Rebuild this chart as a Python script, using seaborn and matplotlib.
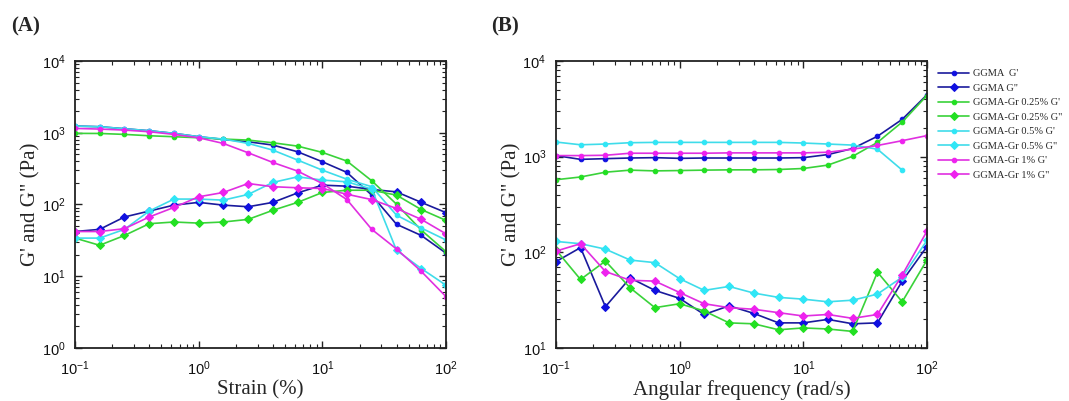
import numpy as np
import pandas as pd
import matplotlib
matplotlib.use("Agg")
import matplotlib.pyplot as plt
import seaborn as sns
from matplotlib.ticker import LogLocator, NullFormatter

# ---------------- data ----------------
strain = [0.1, 0.158, 0.251, 0.398, 0.631, 1.0, 1.58, 2.51, 3.98, 6.31, 10.0, 15.8, 25.1, 39.8, 63.1, 100.0]
freq = [0.1, 0.158, 0.251, 0.398, 0.631, 1.0, 1.58, 2.51, 3.98, 6.31, 10.0, 15.8, 25.1, 39.8, 63.1, 100.0]

labels = ["GGMA  G'", 'GGMA G"', "GGMA-Gr 0.25% G'", 'GGMA-Gr 0.25% G"',
          "GGMA-Gr 0.5% G'", 'GGMA-Gr 0.5% G"', "GGMA-Gr 1% G'", 'GGMA-Gr 1% G"']

# Panel A: strain sweep
A_GGMA_Gp = [1240, 1213, 1137, 1066, 980, 880, 807, 749, 673, 543, 394, 280, 135, 53, 37, 21]
A_GGMA_Gpp = [42, 45, 67, 81, 98, 107, 98, 93, 107, 145, 186, 180, 162, 150, 107, 77]
A_Gr025_Gp = [980, 977, 948, 908, 880, 851, 816, 790, 725, 651, 532, 403, 214, 101, 44, 22]
A_Gr025_Gpp = [34, 27, 37, 54, 57, 55, 57, 62, 83, 107, 147, 158, 158, 135, 85, 60]
A_Gr05_Gp = [1240, 1213, 1137, 1066, 980, 880, 816, 710, 573, 416, 301, 225, 177, 71, 47, 32]
A_Gr05_Gpp = [34, 34, 45, 81, 119, 119, 115, 138, 203, 243, 219, 207, 164, 23, 12.8, 7.5]
A_Gr1_Gp = [1149, 1125, 1089, 1033, 948, 851, 710, 526, 385, 292, 196, 117, 45, 24, 11.7, 5.2]
A_Gr1_Gpp = [42, 42, 46, 67, 91, 128, 147, 196, 177, 171, 167, 139, 117, 88, 62, 39]

# Panel B: frequency sweep
B_GGMA_Gp = [1026, 937, 953, 968, 976, 960, 968, 968, 968, 968, 976, 1051, 1217, 1633, 2455, 4430]
B_GGMA_Gpp = [80, 112, 27, 54, 40, 33, 22.4, 27.6, 23, 18.3, 18.3, 19.9, 17.9, 18.3, 50, 115]
B_Gr025_Gp = [574, 613, 688, 723, 710, 716, 723, 728, 728, 734, 752, 816, 1009, 1409, 2301, 4357]
B_Gr025_Gpp = [106, 52, 81, 42.5, 26.4, 29, 24.4, 18.3, 17.9, 15.5, 16.2, 15.8, 14.9, 62, 30.4, 83]
B_Gr05_Gp = [1422, 1331, 1355, 1399, 1410, 1410, 1410, 1410, 1410, 1410, 1388, 1355, 1321, 1197, 723, np.nan]
B_Gr05_Gpp = [130, 123, 108, 83, 78, 53, 40, 44, 37.5, 33.8, 32.4, 30.4, 31.6, 36.6, 55, 133]
B_Gr1_Gp = [1026, 1026, 1034, 1086, 1086, 1086, 1086, 1095, 1095, 1095, 1095, 1112, 1197, 1309, 1469, 1660]
B_Gr1_Gpp = [103, 123, 63, 51, 50, 38, 29, 26.4, 25.4, 23.4, 21.6, 22.4, 20.4, 22.4, 58, 166]

A_series = [A_GGMA_Gp, A_GGMA_Gpp, A_Gr025_Gp, A_Gr025_Gpp, A_Gr05_Gp, A_Gr05_Gpp, A_Gr1_Gp, A_Gr1_Gpp]
B_series = [B_GGMA_Gp, B_GGMA_Gpp, B_Gr025_Gp, B_Gr025_Gpp, B_Gr05_Gp, B_Gr05_Gpp, B_Gr1_Gp, B_Gr1_Gpp]

# ---------------- style ----------------
line_colors = ["#1a1a9c", "#1a1a9c", "#3ad23a", "#3ad23a", "#3fdcea", "#3fdcea", "#e02fe0", "#e02fe0"]
mark_colors = ["#1010e0", "#1010e0", "#22e022", "#22e022", "#30e6f6", "#30e6f6", "#ee22ee", "#ee22ee"]
markers = ["o", "D", "o", "D", "o", "D", "o", "D"]
msizes = [3.3, 4.0, 3.3, 4.0, 3.3, 4.0, 3.3, 4.0]

sns.set_theme(style="ticks")
plt.rcParams["font.family"] = ["Liberation Sans", "DejaVu Sans"]
plt.rcParams["mathtext.fontset"] = "custom"
plt.rcParams["mathtext.rm"] = "Liberation Sans"
plt.rcParams["mathtext.it"] = "Liberation Sans"
plt.rcParams["mathtext.default"] = "regular"

fig = plt.figure(figsize=(10.69, 4.01), dpi=100)
axA = fig.add_axes([0.0702, 0.1322, 0.347, 0.7157])
axB = fig.add_axes([0.5201, 0.1322, 0.347, 0.7157])

serif = ["Liberation Serif", "DejaVu Serif"]


def draw(ax, xs, series):
    for i, ys in enumerate(series):
        df = pd.DataFrame({"x": xs, "y": ys}).dropna()
        sns.lineplot(data=df, x="x", y="y", ax=ax, color=line_colors[i], lw=1.2,
                     marker=markers[i], markersize=msizes[i],
                     markerfacecolor=mark_colors[i], markeredgecolor=mark_colors[i],
                     label=labels[i], sort=False)


draw(axA, strain, A_series)
draw(axB, freq, B_series)

for ax in (axA, axB):
    ax.set_xscale("log")
    ax.set_yscale("log")
    ax.set_xlim(0.1, 100)
    ax.xaxis.set_major_locator(LogLocator(base=10, numticks=10))
    ax.xaxis.set_minor_locator(LogLocator(base=10, subs=np.arange(2, 10), numticks=20))
    ax.yaxis.set_major_locator(LogLocator(base=10, numticks=10))
    ax.yaxis.set_minor_locator(LogLocator(base=10, subs=np.arange(2, 10), numticks=20))
    ax.xaxis.set_minor_formatter(NullFormatter())
    ax.yaxis.set_minor_formatter(NullFormatter())
    ax.tick_params(which="both", direction="in", top=True, right=True, colors="#222222",
                   labelcolor="#111111", labelsize=10.5)
    ax.tick_params(which="major", length=5, width=1.0)
    ax.tick_params(which="minor", length=3, width=0.8)
    ax.tick_params(axis="x", which="major", pad=8)
    ax.tick_params(axis="y", which="major", pad=7)
    for s in ax.spines.values():
        s.set_linewidth(1.3)
        s.set_color("#222222")
    if ax.get_legend() is not None:
        ax.get_legend().remove()

axA.set_ylim(1, 1e4)
axB.set_ylim(10, 1e4)

axA.set_xlabel("Strain (%)", family=serif, fontsize=15, labelpad=2)
axB.set_xlabel("Angular frequency (rad/s)", family=serif, fontsize=15, labelpad=2)
axA.set_ylabel('G\' and G" (Pa)', family=serif, fontsize=15, labelpad=1)
axB.set_ylabel('G\' and G" (Pa)', family=serif, fontsize=15, labelpad=1)

fig.text(0.010, 0.933, "(A)", family=serif, fontsize=15, fontweight="bold", va="center", ha="left")
fig.text(0.459, 0.933, "(B)", family=serif, fontsize=15, fontweight="bold", va="center", ha="left")

handles, labs = axB.get_legend_handles_labels()
fig.legend(handles, labs, loc="upper left", bbox_to_anchor=(0.874, 0.838), frameon=False,
           prop={"family": serif, "size": 7.5}, handlelength=2.9, labelspacing=0.5,
           handletextpad=0.4, borderaxespad=0)

fig.savefig("out.png", dpi=100)
